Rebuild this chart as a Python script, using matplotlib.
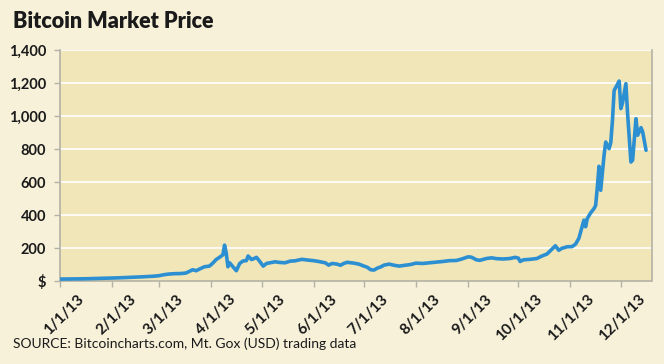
import matplotlib
matplotlib.use("Agg")
import matplotlib.pyplot as plt
import matplotlib.transforms as mtransforms
import numpy as np
import pandas as pd

dates = [
    "2013-01-01", "2013-01-08", "2013-01-15", "2013-01-22", "2013-01-29",
    "2013-02-05", "2013-02-12", "2013-02-19", "2013-02-26", "2013-03-01",
    "2013-03-04", "2013-03-07", "2013-03-10", "2013-03-14", "2013-03-17",
    "2013-03-19", "2013-03-21", "2013-03-23", "2013-03-26", "2013-03-28",
    "2013-03-31", "2013-04-02", "2013-04-04", "2013-04-06", "2013-04-08",
    "2013-04-09", "2013-04-10", "2013-04-11", "2013-04-12", "2013-04-13",
    "2013-04-16", "2013-04-18", "2013-04-20", "2013-04-22", "2013-04-23",
    "2013-04-25", "2013-04-26", "2013-04-28", "2013-04-30", "2013-05-02",
    "2013-05-04", "2013-05-06", "2013-05-09", "2013-05-12", "2013-05-15",
    "2013-05-18", "2013-05-21", "2013-05-25", "2013-05-29", "2013-06-01",
    "2013-06-04", "2013-06-08", "2013-06-10", "2013-06-12", "2013-06-15",
    "2013-06-17", "2013-06-19", "2013-06-21", "2013-06-25", "2013-06-28",
    "2013-07-01", "2013-07-03", "2013-07-05", "2013-07-07", "2013-07-09",
    "2013-07-11", "2013-07-13", "2013-07-16", "2013-07-19", "2013-07-22",
    "2013-07-26", "2013-07-29", "2013-08-01", "2013-08-05", "2013-08-09",
    "2013-08-13", "2013-08-17", "2013-08-21", "2013-08-25", "2013-08-28",
    "2013-09-01", "2013-09-03", "2013-09-06", "2013-09-08", "2013-09-12",
    "2013-09-15", "2013-09-18", "2013-09-22", "2013-09-26", "2013-09-29",
    "2013-10-01", "2013-10-02", "2013-10-04", "2013-10-08", "2013-10-12",
    "2013-10-15", "2013-10-18", "2013-10-21", "2013-10-23", "2013-10-25",
    "2013-10-27", "2013-10-30", "2013-11-02", "2013-11-04", "2013-11-06",
    "2013-11-09", "2013-11-10", "2013-11-11", "2013-11-13", "2013-11-15",
    "2013-11-16", "2013-11-17", "2013-11-18", "2013-11-19", "2013-11-21",
    "2013-11-22", "2013-11-24", "2013-11-25", "2013-11-26", "2013-11-27",
    "2013-11-30", "2013-12-01", "2013-12-02", "2013-12-04", "2013-12-05",
    "2013-12-07", "2013-12-08", "2013-12-10", "2013-12-11", "2013-12-13",
    "2013-12-14", "2013-12-15", "2013-12-16",
]
prices = [
    13.5, 14, 15, 17, 19,
    21, 24, 27, 31, 34,
    40, 44, 46, 47, 50,
    60, 70, 64, 78, 88,
    92, 110, 132, 145, 160,
    219, 170, 88, 112, 100,
    64, 108, 123, 125, 153,
    132, 135, 145, 120, 92,
    108, 112, 118, 114, 112,
    122, 124, 133, 128, 125,
    120, 112, 98, 108, 104,
    97, 108, 115, 110, 104,
    92, 85, 70, 68, 80,
    87, 98, 104, 97, 92,
    98, 102, 110, 108, 112,
    116, 120, 125, 126, 134,
    148, 146, 130, 127, 138,
    142, 137, 135, 138, 145,
    140, 120, 130, 133, 138,
    153, 165, 195, 215, 188,
    200, 209, 210, 225, 260,
    370, 330, 380, 414, 440,
    460, 571, 696, 551, 763,
    843, 803, 840, 974, 1155,
    1212, 1045, 1080, 1196, 1016,
    722, 733, 984, 884, 930,
    904, 850, 793,
]
tick_dates = ["2013-01-01", "2013-02-01", "2013-03-01", "2013-04-01", "2013-05-01",
              "2013-06-01", "2013-07-01", "2013-08-01", "2013-09-01", "2013-10-01",
              "2013-11-01", "2013-12-01"]
tick_labels = ["1/1/13", "2/1/13", "3/1/13", "4/1/13", "5/1/13", "6/1/13",
               "7/1/13", "8/1/13", "9/1/13", "10/1/13", "11/1/13", "12/1/13"]
y_ticks = [0, 200, 400, 600, 800, 1000, 1200, 1400]
y_labels = ["$", "200", "400", "600", "800", "1,000", "1,200", "1,400"]

title = "Bitcoin Market Price"
source = "SOURCE: Bitcoincharts.com, Mt. Gox (USD) trading data"

FIG_BG = "#f7f1da"
AX_BG = "#f0e6b7"
LINE = "#2b8fd2"
SPINE = "#b4b2a6"
TXT = "#1a1a1a"

fig = plt.figure(figsize=(6.64, 3.64), dpi=100, facecolor=FIG_BG)
W, H = 664, 364
x0, x1, ytop, ybot = 60, 651.5, 50, 281.3
ax = fig.add_axes([x0 / W, (H - ybot) / H, (x1 - x0) / W, (ybot - ytop) / H])
ax.set_facecolor(AX_BG)

xd = pd.to_datetime(dates)
ax.plot(xd, prices, color=LINE, lw=2.6, solid_joinstyle="round",
        solid_capstyle="round", zorder=3)

ax.set_ylim(0, 1400)
ax.set_xlim(pd.Timestamp("2013-01-01"), pd.Timestamp("2013-12-19 06:00"))

ax.set_yticks(y_ticks)
ax.set_yticklabels(y_labels)
ax.set_xticks(pd.to_datetime(tick_dates))
ax.set_xticklabels(tick_labels, rotation=45, ha="right", va="top",
                   rotation_mode="anchor")

for y in y_ticks[1:]:
    ax.axhline(y, color="white", lw=1.2, zorder=1)

ax.spines["top"].set_visible(False)
for s in ["left", "right", "bottom"]:
    ax.spines[s].set_color(SPINE)
    ax.spines[s].set_linewidth(1.2)

ax.tick_params(axis="both", colors=SPINE, length=4, width=1)
ax.tick_params(axis="y", pad=6)
ax.tick_params(axis="x", pad=4)
for lab in ax.get_yticklabels():
    lab.set_color(TXT)
    lab.set_fontweight("bold")
    lab.set_fontsize(10.5)
    lab.set_family("Lato")
offset = mtransforms.ScaledTranslation(17 / 100, 0, fig.dpi_scale_trans)
for lab in ax.get_xticklabels():
    lab.set_color(TXT)
    lab.set_fontweight("bold")
    lab.set_fontsize(11)
    lab.set_family("Lato")
    lab.set_transform(lab.get_transform() + offset)

fig.text(13 / W, 1 - 22 / H, title, fontsize=15.5, fontweight="heavy", family="Lato",
         color=TXT, va="center", ha="left")
fig.text(13 / W, 1 - 344 / H, source, fontsize=10, family="Lato",
         color=TXT, va="center", ha="left")

fig.savefig("out.png", dpi=100, facecolor=FIG_BG)
